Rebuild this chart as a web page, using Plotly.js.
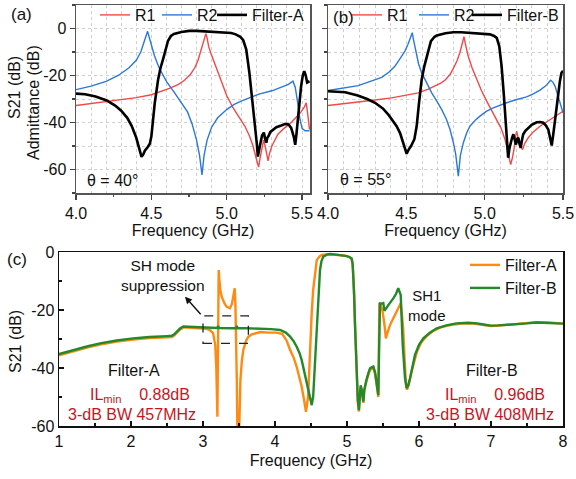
<!DOCTYPE html>
<html><head><meta charset="utf-8">
<script src="https://cdn.plot.ly/plotly-3.0.1.min.js"></script>
<style>html,body{margin:0;padding:0;background:#fff;overflow:hidden}#chart{width:576px;height:479px}</style>
</head><body><div id="chart"></div>
<script>
// ---------- Panel (a): theta = 40 deg ----------
const fA_R1 = [4.00,4.10,4.20,4.30,4.40,4.50,4.56,4.62,4.68,4.72,4.76,4.79,4.81,4.83,4.845,4.855,4.862,4.870,4.880,4.895,4.92,4.945,4.97,5.00,5.04,5.08,5.12,5.15,5.175,5.195,5.212,5.222,5.232,5.245,5.255,5.265,5.275,5.285,5.30,5.34,5.38,5.42,5.46,5.49,5.515,5.528,5.537,5.55];
const sA_R1 = [-32.8,-32.0,-31.0,-30.2,-29.4,-28.2,-27.0,-25.5,-23.8,-22.0,-19.5,-16.5,-13.5,-9.5,-6.0,-3.5,-2.2,-4.0,-7.5,-10.5,-15.0,-19.0,-23.5,-28.5,-33.5,-37.5,-41.5,-45.5,-50,-55,-59,-55,-51.5,-47.5,-50,-54,-56.3,-53,-50,-45,-42.5,-40.5,-38,-35.8,-33.5,-31.6,-36,-43];
const fA_R2 = [4.00,4.10,4.20,4.28,4.35,4.40,4.43,4.45,4.465,4.475,4.485,4.50,4.52,4.55,4.60,4.65,4.70,4.74,4.77,4.80,4.82,4.836,4.85,4.87,4.90,4.94,5.00,5.05,5.10,5.16,5.22,5.30,5.36,5.41,5.44,5.455,5.47,5.485,5.50,5.52,5.55];
const sA_R2 = [-26,-24.5,-22.5,-20,-16.8,-13.5,-10,-6.5,-3.5,-1.2,-3.5,-7.5,-11.5,-16.5,-22.5,-27,-31.5,-35.5,-40.5,-47.5,-54,-62.3,-54,-47.5,-42,-38,-34.5,-32.3,-30.8,-29.2,-27.8,-26.5,-25.2,-23.8,-22.4,-25,-31,-38,-42.5,-43.5,-43.5];
const fA_F = [4.00,4.06,4.13,4.20,4.26,4.30,4.34,4.37,4.40,4.42,4.435,4.445,4.457,4.475,4.49,4.50,4.51,4.523,4.545,4.56,4.578,4.595,4.611,4.63,4.65,4.70,4.75,4.80,4.90,4.98,5.03,5.06,5.09,5.11,5.13,5.15,5.17,5.19,5.20,5.207,5.215,5.225,5.235,5.247,5.255,5.263,5.27,5.278,5.29,5.307,5.33,5.362,5.39,5.41,5.428,5.445,5.455,5.463,5.472,5.485,5.494,5.505,5.515,5.525,5.534,5.55];
const sA_F = [-27.7,-28,-28.9,-30.5,-32.8,-35,-38,-41.5,-46.5,-51,-54.6,-53.8,-52,-50.5,-49,-46,-40,-31.6,-21.7,-17,-13,-8.5,-5.2,-3.2,-2.3,-1.5,-1,-1,-1.3,-1.5,-1.9,-2.5,-3.5,-5,-9,-18.5,-30,-41,-49,-54.5,-51,-48.5,-45.5,-44.3,-47,-48.6,-46.5,-45.8,-44,-43,-42,-41.3,-40.6,-40.8,-42.3,-46,-49.5,-45,-38.5,-30,-24.5,-20,-18.2,-20,-23,-22.4];

// ---------- Panel (b): theta = 55 deg ----------
const fB_R1 = [4.00,4.10,4.193,4.30,4.406,4.50,4.576,4.64,4.683,4.72,4.75,4.78,4.80,4.825,4.842,4.855,4.868,4.88,4.895,4.92,4.949,4.98,5.013,5.045,5.077,5.105,5.13,5.15,5.166,5.177,5.187,5.196,5.204,5.212,5.221,5.232,5.242,5.255,5.278,5.31,5.353,5.395,5.438,5.47,5.50];
const sB_R1 = [-32.8,-32.1,-31.3,-30.4,-29.5,-28.5,-27.4,-25.8,-24.5,-23.2,-21.8,-19.5,-17,-13.5,-10.2,-6.8,-3.5,-7.5,-11.8,-16.8,-21.7,-26.5,-30.9,-35,-38.7,-42.5,-47.2,-52.5,-57.9,-55,-51.5,-46.5,-43.7,-46,-48.6,-50.5,-51.5,-49,-46.5,-44,-41.6,-39.8,-38,-36.6,-35.2];
const fB_R2 = [4.00,4.10,4.193,4.27,4.343,4.39,4.428,4.46,4.491,4.51,4.523,4.532,4.538,4.545,4.56,4.578,4.598,4.63,4.662,4.70,4.726,4.755,4.779,4.80,4.815,4.832,4.845,4.864,4.885,4.906,4.94,4.97,5.01,5.055,5.10,5.14,5.20,5.268,5.31,5.353,5.39,5.421,5.435,5.449,5.465,5.48,5.50];
const sB_R2 = [-26.4,-25.4,-24.3,-22.5,-20.8,-18.5,-16,-12.8,-9.6,-6.8,-4.7,-2.8,-1.8,-4.5,-10,-15,-18.9,-23.5,-27.4,-31.5,-34.5,-38.5,-43,-48.5,-53.5,-62.8,-54,-48.6,-44.5,-41.6,-39,-37.3,-35.3,-33.8,-32.6,-31.6,-30.3,-29.1,-27.8,-26.2,-24.4,-22,-22.8,-24.5,-28,-31.6,-35.9];
const fB_F = [4.00,4.05,4.11,4.19,4.25,4.30,4.35,4.385,4.41,4.438,4.46,4.474,4.49,4.502,4.515,4.53,4.551,4.566,4.581,4.598,4.615,4.63,4.657,4.68,4.694,4.75,4.80,4.85,4.95,5.034,5.06,5.077,5.093,5.108,5.123,5.136,5.15,5.158,5.166,5.175,5.183,5.192,5.20,5.208,5.215,5.222,5.23,5.238,5.246,5.26,5.278,5.30,5.332,5.355,5.374,5.39,5.406,5.418,5.428,5.438,5.449,5.46,5.47,5.48,5.49,5.50];
const sB_F = [-26.7,-26.8,-27.1,-28.5,-30,-31.6,-34,-36.6,-39,-41.6,-44.5,-47.2,-51,-53.3,-51.5,-50,-47.2,-41.6,-31.6,-21.7,-16,-11.8,-5.4,-3.5,-3,-2,-1.6,-1.6,-2,-2.5,-3.2,-4,-7.5,-16,-28.8,-41.6,-55,-51,-48.6,-46.5,-45,-47.5,-49.4,-47,-46.5,-49,-50.8,-47.5,-45,-43.5,-42.3,-41,-39.9,-39.8,-40.1,-41.2,-43,-46.5,-49.8,-45,-38.7,-33,-27.4,-22.5,-18.9,-18];

// ---------- Panel (c): wideband S21 ----------
const fC_A = [1.00,1.2,1.4,1.57,1.8,2.03,2.25,2.5,2.565,2.60,2.635,2.68,2.727,2.80,2.90,2.96,3.05,3.10,3.14,3.17,3.185,3.20,3.205,3.212,3.218,3.225,3.24,3.26,3.30,3.33,3.375,3.40,3.42,3.44,3.45,3.46,3.47,3.477,3.49,3.504,3.512,3.52,3.54,3.56,3.60,3.63,3.68,3.746,3.80,3.90,4.02,4.10,4.16,4.21,4.26,4.30,4.37,4.40,4.43,4.46,4.475,4.49,4.51,4.53,4.555,4.58,4.62,4.65,4.75,4.85,4.95,5.00,5.04,5.065,5.078,5.088,5.10,5.11,5.12,5.13,5.15,5.165,5.175,5.19,5.205,5.227,5.24,5.25,5.27,5.30,5.32,5.343,5.366,5.39,5.40,5.415,5.435,5.442,5.45,5.47,5.495,5.52,5.54,5.56,5.597,5.64,5.69,5.746,5.765,5.78,5.80,5.82,5.835,5.86,5.89,5.93,5.97,6.03,6.1,6.2,6.3,6.45,6.6,6.75,6.9,7.0,7.2,7.4,7.63,7.8,8.0];
const sC_A = [-35.6,-34.2,-32.9,-31.9,-30.9,-30.2,-29.7,-29.4,-29.3,-28.8,-27.9,-26.8,-26,-26.1,-26.3,-26.3,-26.5,-27,-28,-32,-40,-56.8,-45,-20,-6.2,-9,-13,-15.4,-17.8,-18.9,-19.4,-18,-15.4,-12.5,-18,-26.9,-45,-59.7,-60,-60,-52,-44,-37.5,-33.8,-30.5,-29.2,-28.4,-28,-27.6,-27.8,-27.8,-28.2,-30.5,-33.8,-36.5,-39.5,-46.4,-50.5,-55.1,-49.9,-40,-30.3,-21,-13.1,-7,-2.8,-1.5,-1,-0.8,-0.9,-1.2,-1.4,-1.9,-2.6,-4.5,-8,-16,-25,-33.5,-42,-51.5,-55,-49.5,-46.5,-48,-52,-48,-46.5,-44.5,-42,-40.6,-40.3,-40,-42,-43.5,-46.5,-50,-35,-17.7,-18.5,-20.6,-25,-29.8,-28,-25.2,-23,-20.6,-17.7,-22,-26.3,-37,-45.9,-47.5,-45.5,-42,-38,-34.5,-31.2,-29.2,-27.2,-26,-25.1,-24.7,-24.7,-25.2,-25.5,-25.2,-24.8,-24.2,-24.3,-24.7];
const fC_B = [1.00,1.2,1.4,1.57,1.8,2.03,2.25,2.5,2.565,2.60,2.635,2.68,2.727,2.80,2.90,2.96,3.05,3.20,3.21,3.22,3.40,3.46,3.47,3.48,3.61,3.80,3.95,4.07,4.15,4.21,4.26,4.30,4.34,4.37,4.40,4.43,4.46,4.486,4.51,4.53,4.545,4.556,4.572,4.588,4.605,4.625,4.645,4.67,4.72,4.764,4.85,4.95,4.996,5.04,5.065,5.078,5.088,5.10,5.11,5.12,5.13,5.15,5.165,5.175,5.19,5.205,5.227,5.24,5.25,5.27,5.30,5.32,5.343,5.366,5.39,5.40,5.415,5.435,5.445,5.458,5.48,5.504,5.52,5.55,5.574,5.643,5.68,5.712,5.746,5.774,5.806,5.829,5.85,5.875,5.91,5.944,6.0,6.06,6.15,6.246,6.38,6.52,6.68,6.81,6.92,6.99,7.1,7.36,7.5,7.63,7.8,8.0];
const sC_B = [-35.2,-33.8,-32.5,-31.5,-30.5,-29.8,-29.3,-29,-28.9,-28.4,-27.5,-26.4,-25.7,-25.8,-26,-26.1,-26.2,-26.2,-25.5,-26.2,-26.3,-26.3,-25.5,-26.3,-26.3,-26.4,-26.6,-26.9,-27.8,-29.2,-30.8,-32.6,-34.8,-37.2,-40.5,-44.1,-47.8,-51,-52.8,-49.9,-43,-36.1,-27,-18.9,-11.5,-6.2,-3.2,-1.6,-0.9,-0.7,-0.9,-1.2,-1.4,-1.8,-2.2,-4,-7.4,-15,-24.6,-33,-41.8,-51,-54.5,-49,-46,-47.5,-51.6,-47.5,-46,-44.1,-41.5,-40.1,-39.8,-39.5,-41.5,-43,-46,-49.3,-35,-17.7,-17.8,-17.6,-20.3,-19,-18.3,-16,-14.5,-12.5,-14.8,-32.1,-43.6,-47,-46,-43.6,-39.5,-35.5,-32,-29.8,-27.8,-26.3,-25.3,-24.6,-24.4,-24.6,-25.1,-25.4,-25.3,-25,-24.6,-24.3,-24.4,-24.7];

// tick labels
const xTopVals = [4.0,4.5,5.0,5.5];
const xTopText = ['4.0','4.5','5.0','5.5'];
const xTopMinor = [4.25,4.75,5.25];
const yTopVals = [-60,-40,-20,0];
const yTopText = ['-60','-40','-20','0'];
const yBotVals = [-60,-40,-20,0];
const yBotText = ['-60','-40','-20','0'];

const W = 576, H = 479;
const PX = v => v / W, PY = v => 1 - v / H;
const FONT = 'Arial, "Liberation Sans", sans-serif';
const RED = '#f24848', BLUE = '#2a78d8', ORANGE = '#ff8a12', GREEN = '#23892a', TXTRED = '#c8141e';

const traces = [
  {x:fA_R1, y:sA_R1, name:'R1', xaxis:'x', yaxis:'y', mode:'lines', line:{color:RED, width:1.4}, legend:'legend'},
  {x:fA_R2, y:sA_R2, name:'R2', xaxis:'x', yaxis:'y', mode:'lines', line:{color:BLUE, width:1.4}, legend:'legend2'},
  {x:fA_F, y:sA_F, name:'Filter-A', xaxis:'x', yaxis:'y', mode:'lines', line:{color:'#000', width:2.6}, legend:'legend3'},
  {x:fB_R1, y:sB_R1, name:'R1', xaxis:'x2', yaxis:'y2', mode:'lines', line:{color:RED, width:1.4}, legend:'legend4'},
  {x:fB_R2, y:sB_R2, name:'R2', xaxis:'x2', yaxis:'y2', mode:'lines', line:{color:BLUE, width:1.4}, legend:'legend5'},
  {x:fB_F, y:sB_F, name:'Filter-B', xaxis:'x2', yaxis:'y2', mode:'lines', line:{color:'#000', width:2.6}, legend:'legend6'},
  {x:fC_A, y:sC_A, name:'Filter-A', xaxis:'x3', yaxis:'y3', mode:'lines', line:{color:ORANGE, width:2.4}, legend:'legend7'},
  {x:fC_B, y:sC_B, name:'Filter-B', xaxis:'x3', yaxis:'y3', mode:'lines', line:{color:GREEN, width:2.4}, legend:'legend8'},
  {x:[], y:[], xaxis:'x4', yaxis:'y', showlegend:false, hoverinfo:'skip'},
  {x:[], y:[], xaxis:'x5', yaxis:'y2', showlegend:false, hoverinfo:'skip'}
];

const gridC = '#cfcfcf';
function topX(domain, range, anchor) {
  return {domain:domain, range:range, anchor:anchor, tickmode:'array', tickvals:xTopVals, ticktext:xTopText,
    ticks:'outside', ticklen:5, tickwidth:1.3, tickcolor:'#444', showline:true, mirror:true, linecolor:'#555', linewidth:1.5,
    zeroline:false, showgrid:true, gridcolor:gridC, griddash:'dot', gridwidth:1, automargin:false,
    minor:{tickmode:'linear', tick0:4, dtick:0.1, showgrid:true, gridcolor:gridC, griddash:'dot', gridwidth:1, ticks:''},
    tickfont:{size:16, color:'#111'},
    title:{text:'Frequency (GHz)', font:{size:16, color:'#111'}, standoff:4}};
}
function topY(domain, anchor, labels) {
  return {domain:domain, range:[-70,10], anchor:anchor, tickmode:'array', tickvals:yTopVals, ticktext:yTopText,
    showticklabels:labels, ticks:'outside', ticklen:5, tickwidth:1.3, tickcolor:'#444', automargin:false,
    showline:true, mirror:true, linecolor:'#555', linewidth:1.5, zeroline:false,
    showgrid:true, gridcolor:gridC, griddash:'dot', gridwidth:1,
    minor:{tickmode:'linear', tick0:0, dtick:10, showgrid:true, gridcolor:gridC, griddash:'dot', gridwidth:1, ticks:'outside', ticklen:3, tickcolor:'#444'},
    tickfont:{size:16, color:'#111'}};
}
function minorX(over, range, anchor) {
  return {overlaying:over, anchor:anchor, range:range, tickmode:'array', tickvals:xTopMinor, ticks:'outside', ticklen:3,
    tickwidth:1.3, tickcolor:'#444', showticklabels:false, showgrid:false, showline:false, zeroline:false, side:'bottom', automargin:false};
}
// one legend box per entry, placed where the reference draws it (x = left of symbol area)
function legendAt(xpx, ypx) {
  return {orientation:'v', x:PX(xpx), y:PY(ypx), xanchor:'left', yanchor:'middle', bgcolor:'rgba(0,0,0,0)',
    font:{size:16, color:'#111'}, itemwidth:30, borderwidth:0, tracegroupgap:0};
}
function ann(xpx, ypx, text, size, color, extra) {
  return Object.assign({xref:'paper', yref:'paper', x:PX(xpx), y:PY(ypx), xanchor:'center', yanchor:'middle',
    text:text, showarrow:false, font:{size:size, color:color || '#111'}}, extra || {});
}

const layout = {
  width:W, height:H, margin:{l:0,r:0,t:0,b:0,autoexpand:false}, paper_bgcolor:'#fff', plot_bgcolor:'#fff',
  font:{family:FONT, size:16, color:'#111'},
  xaxis: topX([PX(76), PX(310)], [4, 5.553], 'y'),
  yaxis: topY([PY(193), PY(5)], 'x', true),
  xaxis2: topX([PX(328), PX(563)], [4, 5.5], 'y2'),
  yaxis2: topY([PY(193), PY(5)], 'x2', false),
  xaxis4: minorX('x', [4, 5.553], 'y'),
  xaxis5: minorX('x2', [4, 5.5], 'y2'),
  xaxis3: {domain:[PX(59), PX(563)], range:[1,8], anchor:'y3', tickmode:'linear', tick0:1, dtick:1,
    ticks:'inside', ticklen:5, tickwidth:1.3, tickcolor:'#111', showline:true, mirror:true, linecolor:'#111', linewidth:1.5,
    zeroline:false, showgrid:false, automargin:false, minor:{dtick:0.5, ticks:'inside', ticklen:3, tickcolor:'#111'},
    tickfont:{size:16, color:'#111'}, title:{text:'Frequency (GHz)', font:{size:16, color:'#111'}, standoff:6}},
  yaxis3: {domain:[PY(426), PY(252)], range:[-60,0], anchor:'x3', tickmode:'array', tickvals:yBotVals, ticktext:yBotText,
    ticks:'inside', ticklen:5, tickwidth:1.3, tickcolor:'#111', showline:true, mirror:true, linecolor:'#111', linewidth:1.5,
    zeroline:false, showgrid:false, automargin:false, minor:{tickmode:'linear', tick0:0, dtick:10, ticks:'inside', ticklen:3, tickcolor:'#111'},
    tickfont:{size:16, color:'#111'}},
  showlegend:true,
  legend: legendAt(95, 15),
  legend2: legendAt(157, 15),
  legend3: legendAt(212, 15),
  legend4: legendAt(347, 15),
  legend5: legendAt(414, 15),
  legend6: legendAt(467, 15),
  legend7: legendAt(465, 265),
  legend8: legendAt(465, 288),
  shapes:[
    {type:'rect', xref:'x3', yref:'y3', x0:3.0, x1:3.63, y0:-31.5, y1:-22, line:{color:'#222', width:1.3, dash:'dash'}}
  ],
  annotations:[
    ann(21, 15, '(a)', 17),
    ann(343, 17, '(b)', 17),
    ann(17, 259, '(c)', 17),
    ann(15, 88, 'S21 (dB)', 16, null, {textangle:-90}),
    ann(33, 103, 'Admittance (dB)', 16, null, {textangle:-90}),
    ann(15, 342, 'S21 (dB)', 16, null, {textangle:-90}),
    ann(112, 180, 'θ = 40°', 16),
    ann(365, 179, 'θ = 55°', 16),
    ann(163, 275, 'SH mode<br>suppression', 15.5),
    {xref:'x3', yref:'y3', x:2.75, y:-15.4, ax:17, ay:19, text:'', showarrow:true, arrowhead:2, arrowsize:1, arrowwidth:1.4, arrowcolor:'#111'},
    ann(427, 305, 'SH1<br>mode', 15),
    ann(134, 370, 'Filter-A', 16),
    ann(140, 395, 'IL<sub>min</sub>\u00a0\u00a0\u00a0\u00a00.88dB', 16, TXTRED),
    ann(132, 414, '3-dB BW 457MHz', 16, TXTRED),
    ann(492, 370, 'Filter-B', 16),
    ann(495, 395, 'IL<sub>min</sub>\u00a0\u00a0\u00a0\u00a00.96dB', 16, TXTRED),
    ann(490, 414, '3-dB BW 408MHz', 16, TXTRED)
  ]
};

Plotly.newPlot('chart', traces, layout, {staticPlot:true, displayModeBar:false});
</script>
</body></html>
